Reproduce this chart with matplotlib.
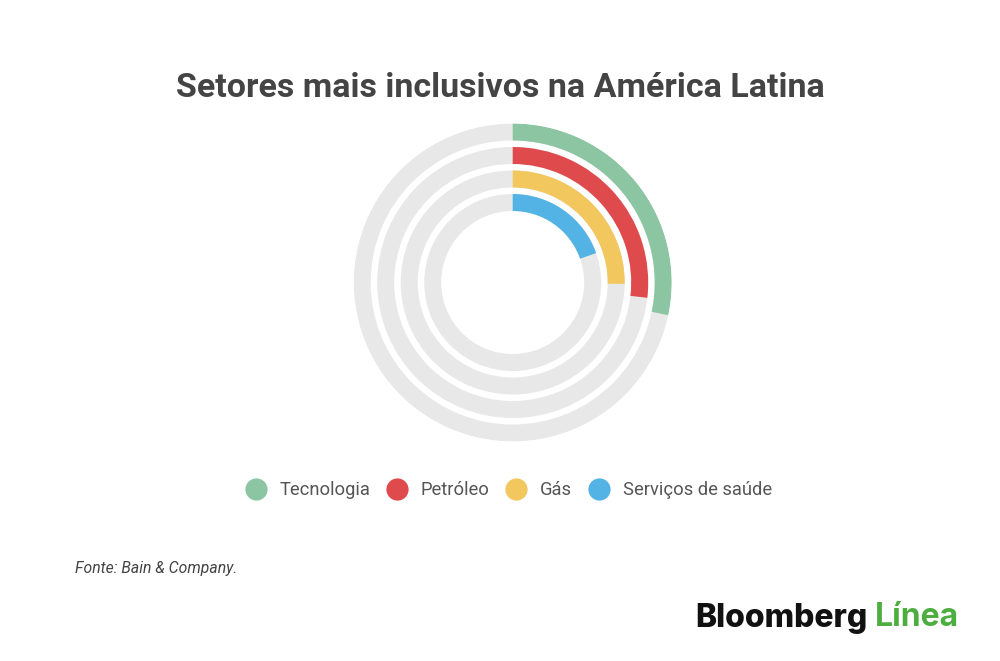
import numpy as np
import matplotlib
matplotlib.use("Agg")
import matplotlib.pyplot as plt
from matplotlib.lines import Line2D

# data (share of a full circle, %)
setores = ["Tecnologia", "Petróleo", "Gás", "Serviços de saúde"]
valores = [28.3, 26.8, 25.2, 19.6]
cores = ["#8cc5a2", "#df4b4d", "#f2c75e", "#52b3e4"]

titulo = "Setores mais inclusivos na América Latina"
fonte = "Fonte: Bain & Company."

plt.rcParams["font.family"] = ["Roboto", "DejaVu Sans"]

fig = plt.figure(figsize=(10, 6.61), dpi=100)
fig.patch.set_facecolor("white")

# polar axes, radius in pixels so rings line up with the picture
cx, cy, R = 512.7, 661 - 282.5, 159.0
ax = fig.add_axes([(cx - R) / 1000, (cy - R) / 661, 2 * R / 1000, 2 * R / 661],
                  projection="polar")
ax.set_theta_zero_location("N")
ax.set_theta_direction(-1)
ax.set_ylim(0, R)

banda = 17.0
passo = 23.5
for i, (nome, v, c) in enumerate(zip(setores, valores, cores)):
    r = R - banda / 2 - i * passo
    ax.barh(r, 2 * np.pi, left=0, height=banda, color="#e8e8e8", edgecolor="none")
    ax.barh(r, 2 * np.pi * v / 100.0, left=0, height=banda, color=c, edgecolor="none")
ax.set_axis_off()

fig.text(0.5, 1 - 88 / 661, titulo, ha="center", va="center",
         fontsize=24.5, fontweight="bold", color="#444444")

# legend
handles = [Line2D([], [], marker="o", linestyle="none", markersize=16,
                  markerfacecolor=c, markeredgecolor="none") for c in cores]
fig.legend(handles, setores, loc="center", bbox_to_anchor=(0.5045, 1 - 490 / 661),
           ncol=4, frameon=False, fontsize=13.2, handletextpad=0.3,
           columnspacing=0.45, labelcolor="#555555")

fig.text(75 / 1000, 1 - 568 / 661, fonte, ha="left", va="center",
         fontsize=11.3, fontstyle="italic", color="#444444")

# logo text
t1 = fig.text(695 / 1000, 1 - 618 / 661, "Bloomberg", ha="left", va="center",
              fontsize=23, fontweight="heavy", color="#111111",
              family=["Inter", "Roboto", "DejaVu Sans"])
fig.canvas.draw()
bb = t1.get_window_extent()
fig.text((bb.x1 + 8) / 1000, 1 - 618 / 661, "Línea", ha="left", va="center",
         fontsize=23, fontweight="bold", color="#4cae3e",
         family=["Inter", "Roboto", "DejaVu Sans"])

fig.savefig("out.png", dpi=100, facecolor="white")
